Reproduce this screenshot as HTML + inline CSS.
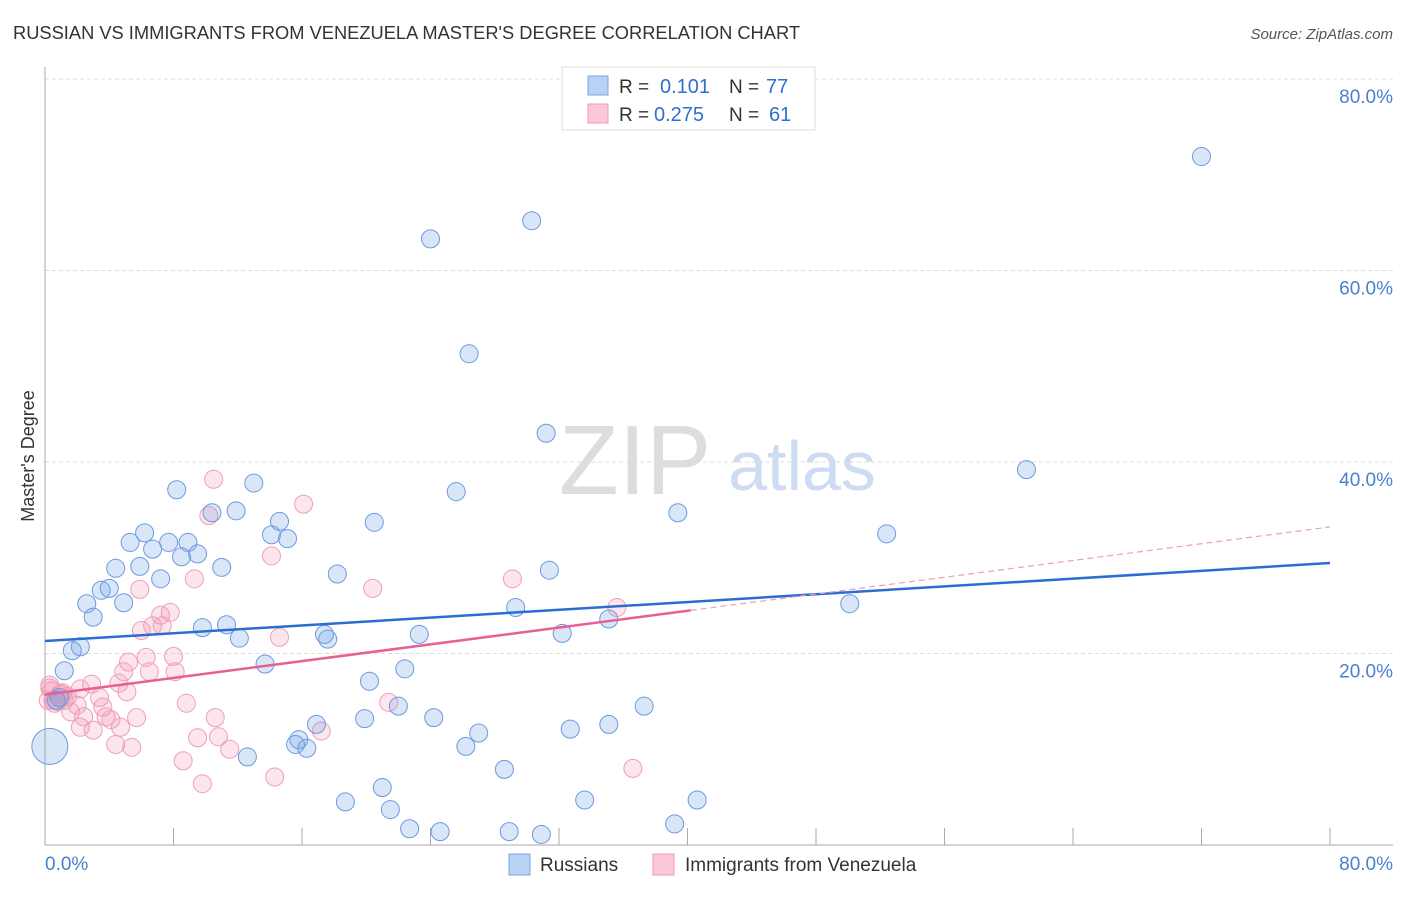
<!DOCTYPE html>
<html><head><meta charset="utf-8"><style>
body{margin:0;background:#fff;font-family:"Liberation Sans",sans-serif;}
svg text{font-family:"Liberation Sans",sans-serif;}
</style></head><body>
<svg id="chart" width="1406" height="892">
<text x="13" y="39" font-size="18.3" fill="#333">RUSSIAN VS IMMIGRANTS FROM VENEZUELA MASTER'S DEGREE CORRELATION CHART</text>
<text x="1393" y="39" font-size="15" fill="#555" font-style="italic" text-anchor="end">Source: ZipAtlas.com</text>
<text x="635" y="494" font-size="98" fill="#ddd" font-family="Liberation Serif" text-anchor="middle">ZIP</text>
<text x="802" y="490" font-size="70" fill="#cddcf3" text-anchor="middle">atlas</text>
<text transform="translate(34,456) rotate(-90)" font-size="18" fill="#333" text-anchor="middle">Master's Degree</text>
<g id="grid"></g><g id="pts"></g><g id="lines"></g>
<g>
<rect x="562" y="67" width="253" height="63" fill="#fff" stroke="#ddd"/>
<rect x="588" y="76" width="20" height="19" fill="#b8d2f5" stroke="#7aa5e0"/>
<rect x="588" y="104" width="20" height="19" fill="#fcc8d8" stroke="#ef9ab5"/>
<text x="619" y="93" font-size="19" fill="#333">R = </text><text x="660" y="93" font-size="20" fill="#2f6fd0">0.101</text>
<text x="729" y="93" font-size="19" fill="#333">N = </text><text x="766" y="93" font-size="20" fill="#2f6fd0">77</text>
<text x="619" y="121" font-size="19" fill="#333">R = </text><text x="654" y="121" font-size="20" fill="#2f6fd0">0.275</text>
<text x="729" y="121" font-size="19" fill="#333">N = </text><text x="769" y="121" font-size="20" fill="#2f6fd0">61</text>
</g>
<g>
<rect x="509" y="854" width="21" height="21" fill="#b8d2f5" stroke="#7aa5e0"/>
<text x="540" y="871" font-size="19" fill="#333">Russians</text>
<rect x="653" y="854" width="21" height="21" fill="#fcc8d8" stroke="#ef9ab5"/>
<text x="685" y="871" font-size="19" fill="#333">Immigrants from Venezuela</text>
</g>
</svg>
<script>
const xTickVals=[0,8,16,24,32,40,48,56,64,72,80];
const yTickVals=[20,40,60,80];
const yTickLabels=["20.0%","40.0%","60.0%","80.0%"];
const russX=[72.0,30.3,24.0,26.4,31.2,61.1,25.6,8.2,13.0,11.9,10.4,6.2,14.6,20.5,39.4,52.4,5.3,7.7,8.9,14.1,15.1,6.7,8.5,9.5,4.4,5.9,11.0,7.2,18.2,31.4,3.5,4.0,2.6,4.9,3.0,29.3,35.1,50.1,9.8,11.3,12.1,17.4,17.6,23.3,32.2,2.2,1.7,1.2,13.7,22.4,20.2,0.9,0.7,22.0,37.3,19.9,24.2,16.9,35.1,32.7,27.0,15.8,15.6,16.3,26.2,12.6,28.6,21.0,18.7,21.5,33.6,40.6,22.7,24.6,28.9,30.9,39.2];
const russY=[71.9,65.2,63.3,51.3,43.0,39.2,36.9,37.1,37.8,34.9,34.7,32.6,33.8,33.7,34.7,32.5,31.6,31.6,31.6,32.4,32.0,30.9,30.1,30.4,28.9,29.1,29.0,27.8,28.3,28.7,26.6,26.8,25.2,25.3,23.8,24.8,23.6,25.2,22.7,23.0,21.6,22.0,21.5,22.0,22.1,20.7,20.3,18.2,18.9,18.4,17.1,15.4,15.1,14.5,14.5,13.2,13.3,12.6,12.6,12.1,11.7,11.0,10.5,10.1,10.3,9.2,7.9,6.0,4.5,3.7,4.7,4.7,1.7,1.4,1.4,1.1,2.2];
const venX=[10.5,16.1,10.2,14.1,9.3,5.9,20.4,29.1,35.6,7.8,7.2,6.7,7.3,6.0,14.6,5.2,6.3,6.5,8.0,8.1,4.9,4.6,5.1,2.9,2.2,0.3,3.4,3.6,3.8,2.2,3.0,2.4,4.1,4.7,5.7,8.8,10.6,10.8,9.5,11.5,4.4,5.4,8.6,9.8,14.3,17.2,21.4,36.6,0.5,0.9,1.2,0.2,1.6,0.4,1.0,0.6,1.4,0.8,0.3,2.0,1.1];
const venY=[38.2,35.6,34.4,30.2,27.8,26.7,26.8,27.8,24.8,24.3,24.0,22.9,22.9,22.4,21.7,19.1,19.6,18.1,19.7,18.1,18.1,16.9,16.0,16.8,16.3,16.7,15.4,14.4,13.4,12.3,12.0,13.4,13.1,12.3,13.3,14.8,13.3,11.3,11.2,10.0,10.5,10.2,8.8,6.4,7.1,11.9,14.9,8.0,15.1,15.7,15.1,15.1,13.9,16.1,15.8,14.8,15.5,15.0,16.4,14.6,15.9];
const russLine=[21.3,29.45];
const venLine=[15.7,0.219];
const venSolidEnd=40.2;
const bigX=[0.3], bigY=[10.3];
const NS="http://www.w3.org/2000/svg";
const sx=v=>45+v*(1285/80), sy=v=>845-v*(766/80);
function mk(t,a,p){const e=document.createElementNS(NS,t);for(const k in a)e.setAttribute(k,a[k]);p.appendChild(e);return e;}
const grid=document.getElementById('grid'),pts=document.getElementById('pts'),lines=document.getElementById('lines');
yTickVals.forEach((v,i)=>{
 const l=mk('line',{x1:45,x2:1393,y1:sy(v),y2:sy(v),stroke:'#ddd','stroke-dasharray':'4,3'},grid);
 
 
 const t=mk('text',{x:1393,y:sy(v)+24,'font-size':19,fill:'#4a7fd0','text-anchor':'end'},grid);t.textContent=yTickLabels[i];
 
 
});
const ax=mk('line',{x1:45,x2:45,y1:67,y2:845,stroke:'#aaa'},grid);


const bx=mk('line',{x1:45,x2:1393,y1:845,y2:845,stroke:'#aaa'},grid);


xTickVals.forEach(v=>{const l=mk('line',{x1:sx(v),x2:sx(v),y1:828,y2:845,stroke:'#aaa'},grid);
 
 });
const x0=mk('text',{x:45,y:870,'font-size':19,fill:'#4a7fd0'},grid);x0.textContent='0.0%';


const x1=mk('text',{x:1393,y:870,'font-size':19,fill:'#4a7fd0','text-anchor':'end'},grid);x1.textContent='80.0%';


venX.forEach((v,i)=>{const c=mk('circle',{cx:sx(v),cy:sy(venY[i]),r:9,fill:'rgba(244,150,180,0.25)',stroke:'#ee9fb8','stroke-width':1},pts);
 
 });
russX.forEach((v,i)=>{const c=mk('circle',{cx:sx(v),cy:sy(russY[i]),r:9,fill:'rgba(120,165,230,0.28)',stroke:'#6b9ae0','stroke-width':1},pts);
 
 });
bigX.forEach((v,i)=>{const c=mk('circle',{cx:sx(v),cy:sy(bigY[i]),r:18,fill:'rgba(120,165,230,0.28)',stroke:'#6b9ae0','stroke-width':1},pts);
 
 });
const rl=mk('line',{x1:sx(0),y1:sy(russLine[0]),x2:sx(80),y2:sy(russLine[1]),stroke:'#2a6dd4','stroke-width':2.5},lines);


const vs=mk('line',{x1:sx(0),y1:sy(venLine[0]),x2:sx(venSolidEnd),y2:sy(venLine[0]+venLine[1]*venSolidEnd),stroke:'#e8608f','stroke-width':2.5},lines);


const vd=mk('line',{x1:sx(venSolidEnd),y1:sy(venLine[0]+venLine[1]*venSolidEnd),x2:sx(80),y2:sy(venLine[0]+venLine[1]*80),stroke:'#e8a0b8','stroke-width':1.2,'stroke-dasharray':'6,4'},lines);


</script>
</body></html>
